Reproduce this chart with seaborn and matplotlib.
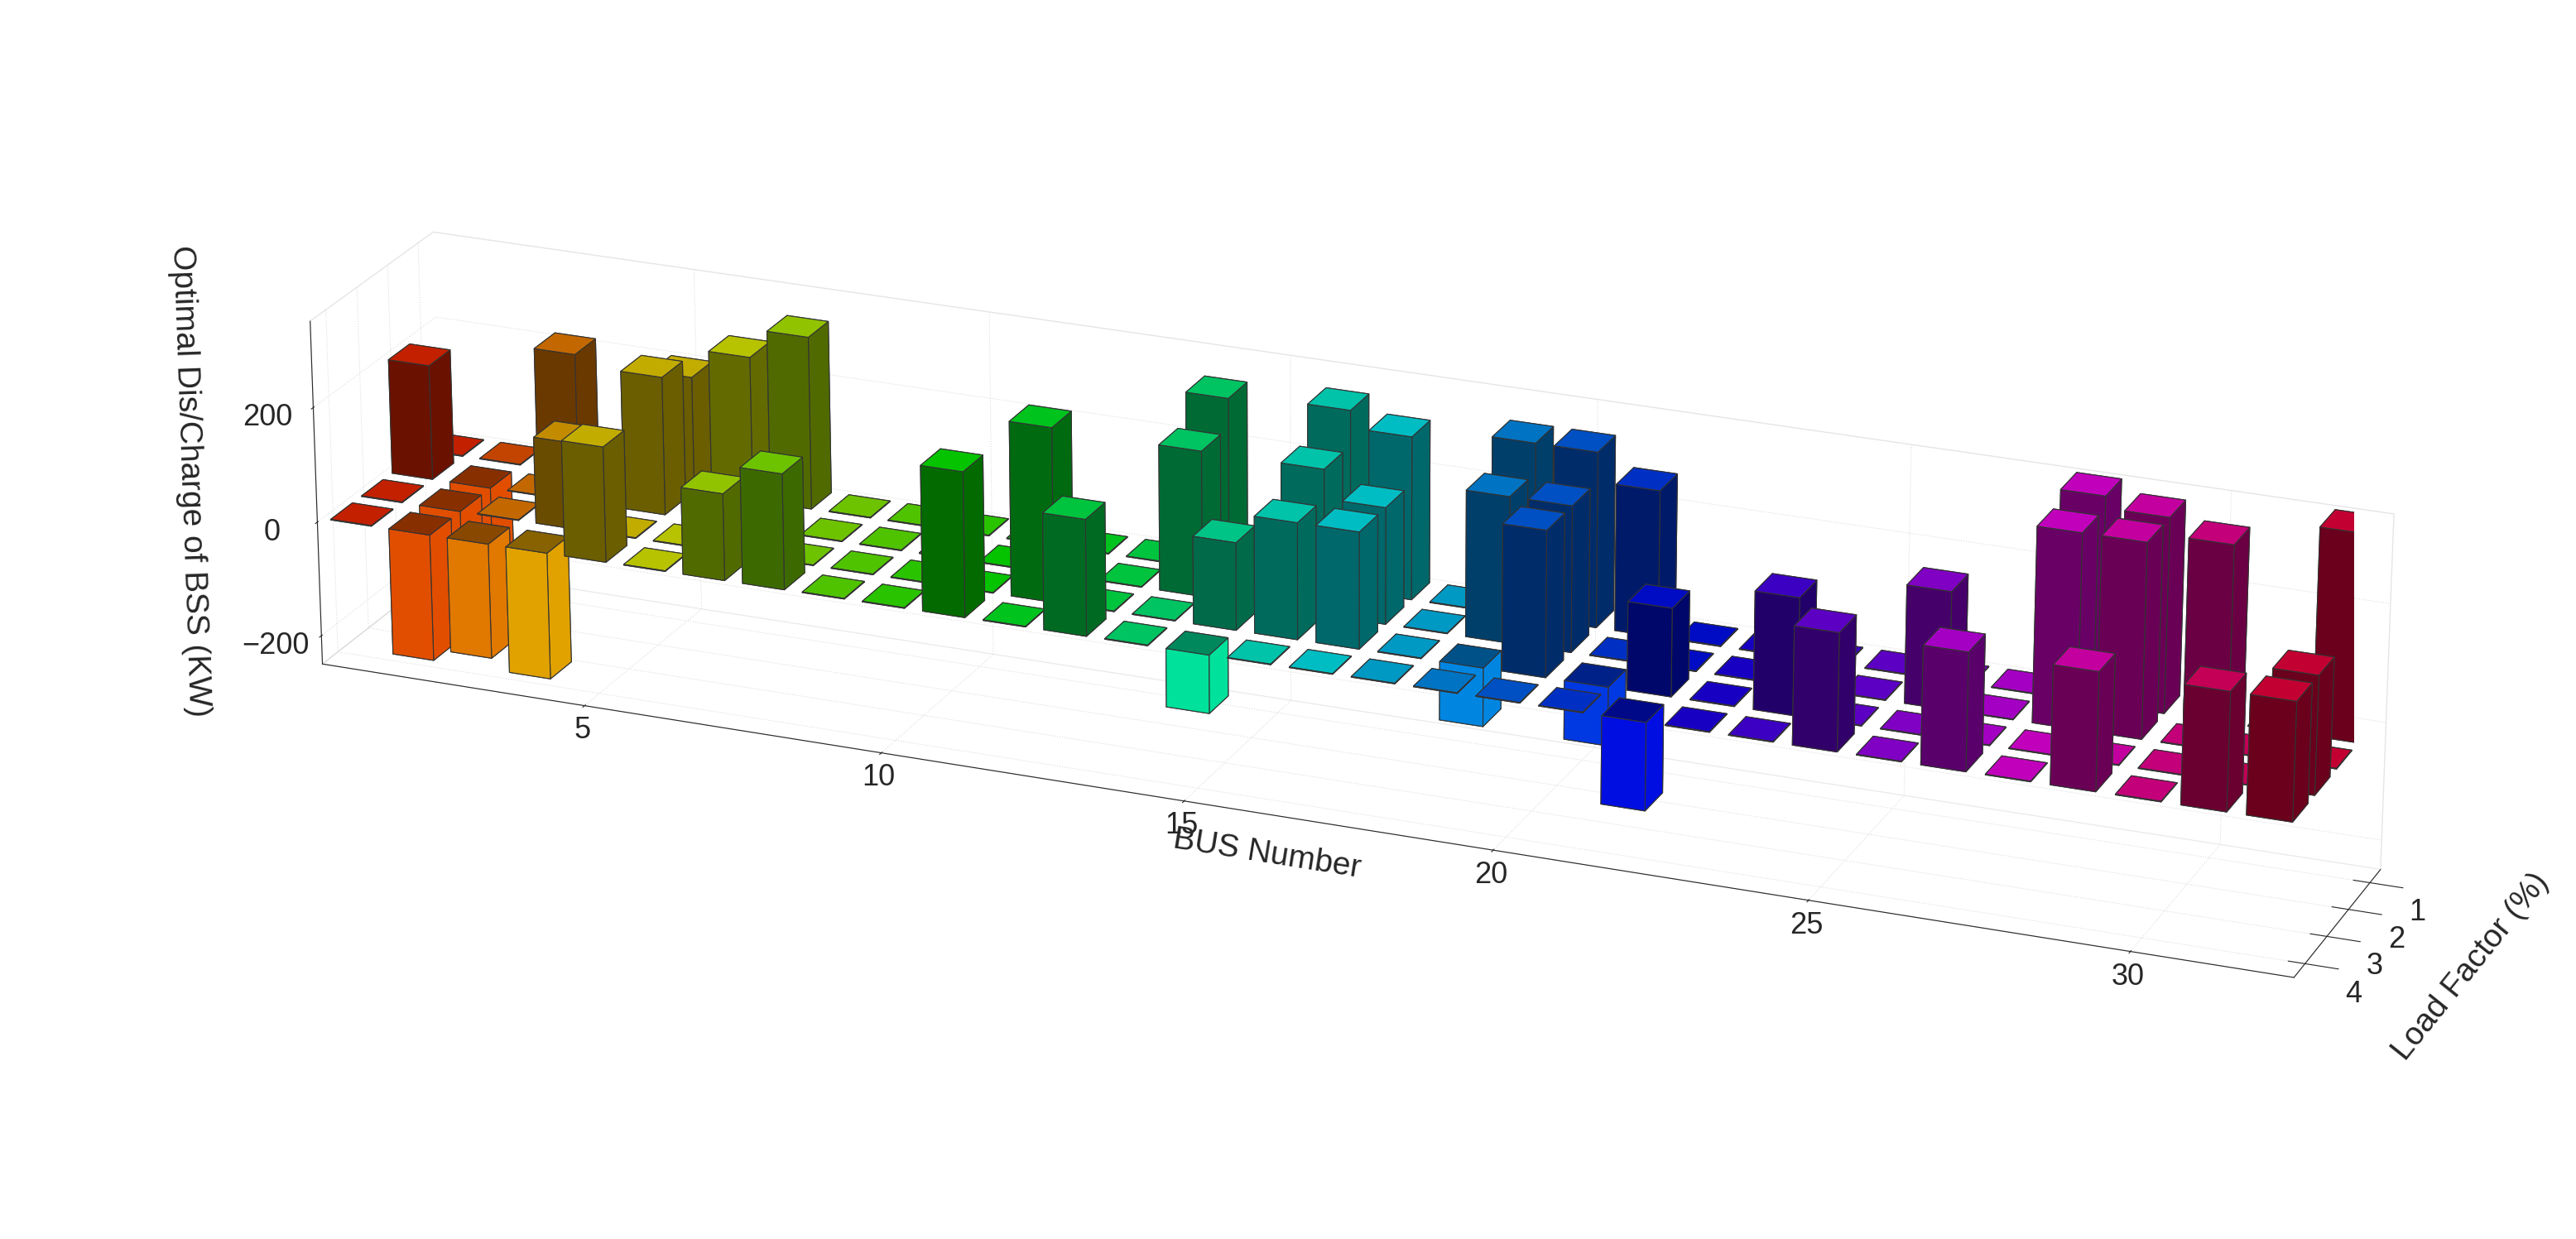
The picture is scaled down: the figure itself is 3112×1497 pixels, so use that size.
import numpy as np
import matplotlib
matplotlib.use('Agg')
import matplotlib.pyplot as plt
import seaborn as sns

sns.set_style('white')
plt.rcParams['font.family'] = ['Liberation Sans', 'DejaVu Sans']

# Optimal dis/charge of BSS (kW), one list per load factor, buses 1..32
buses = list(range(1, 33))
load_factors = [1, 2, 3, 4]
lf1 = [0, 0, 210, 0, 200, 250, 300, 0, 0, 0, 0, 0, 0, 300, 0, 310, 280, 0, 300, 300, 250, 0, 0, 0, 0, 0, 0, 350, 330, 300, 0, 350]
lf2 = [200, -200, 0, 0, 240, 0, 0, 0, 0, 0, 0, 0, 0, 250, 0, 250, 200, 0, 250, 250, 0, 0, 0, 0, 0, 200, 0, 330, 330, 0, 0, 0]
lf3 = [0, -200, 0, 150, 0, 0, 0, 0, 0, 0, 0, 300, 0, 0, 150, 200, 200, 0, -100, 250, -100, 150, 0, 200, 0, 0, 0, 0, 0, 0, 0, 200]
lf4 = [0, -220, -200, -220, 200, 0, 150, 200, 0, 0, 250, 0, 200, 0, -100, 0, 0, 0, 0, 0, 0, -150, 0, 0, 200, 0, 200, 0, 200, 0, 200, 200]
values = [lf1, lf2, lf3, lf4]

palette = sns.color_palette('hsv', len(buses))

fig = plt.figure(figsize=(31.12, 14.97), dpi=100)
ax = fig.add_axes([-0.12, -0.35, 1.25, 1.7], projection='3d')

w = 0.7
for j, row in enumerate(values):
    for i, v in enumerate(row):
        h = v if v != 0 else 1.0
        ax.bar3d(j + 1 - w / 2, buses[i] - w / 2, 0, w, w, h,
                 color=palette[i], edgecolor='#333333', linewidth=0.8,
                 shade=True)

ax.set_xlim(0.5, 4.5)
ax.set_ylim(0.5, 32.5)
ax.set_zlim(-250, 350)
ax.set_box_aspect((1.2, 9, 1.6))
ax.view_init(elev=22, azim=22)

ax.set_xticks(load_factors)
ax.set_yticks([5, 10, 15, 20, 25, 30])
ax.set_zticks([-200, 0, 200])
ax.tick_params(labelsize=26, pad=14)
ax.set_xlabel('Load Factor (%)', fontsize=28, labelpad=40)
ax.set_ylabel('BUS Number', fontsize=28, labelpad=60)
ax.set_zlabel('Optimal Dis/Charge of BSS (KW)', fontsize=28, labelpad=40)
for a in (ax.xaxis, ax.yaxis, ax.zaxis):
    a.pane.set_facecolor('white')
    a.pane.set_edgecolor('#cccccc')
    a._axinfo['grid']['color'] = '#dddddd'
    a._axinfo['grid']['linestyle'] = ':'

fig.savefig('out.png', dpi=100)
